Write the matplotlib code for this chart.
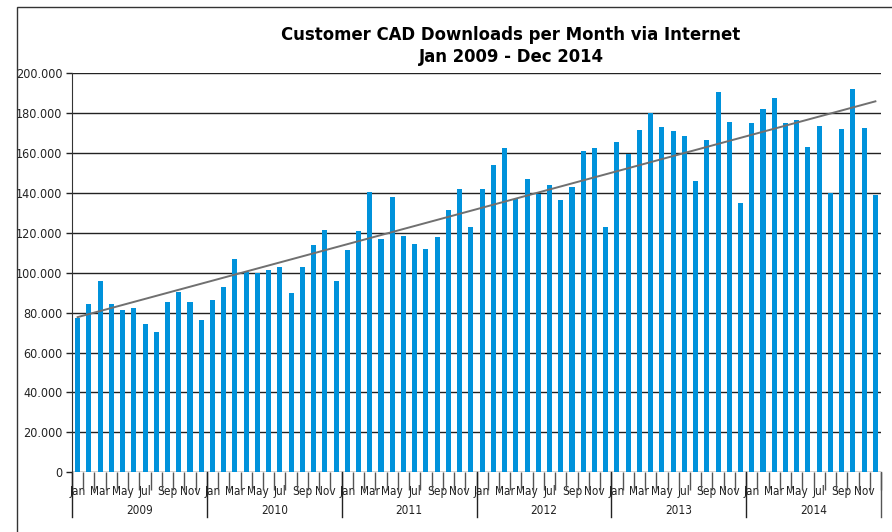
import numpy as np
import matplotlib.pyplot as plt
from matplotlib.patches import Rectangle
from matplotlib.ticker import FuncFormatter

years = ["2009", "2010", "2011", "2012", "2013", "2014"]
months = ["Jan", "Feb", "Mar", "Apr", "May", "Jun",
          "Jul", "Aug", "Sep", "Oct", "Nov", "Dec"]

downloads = [
    # 2009
    77500, 84500, 96000, 84300, 81500, 82300, 74300, 70200, 85200, 90500, 85200, 76500,
    # 2010
    86200, 93000, 106700, 100500, 99800, 101500, 103000, 89800, 103000, 114000, 121500, 95800,
    # 2011
    111200, 120700, 140200, 116700, 137700, 118500, 114300, 111700, 118000, 131300, 141800, 123000,
    # 2012
    141800, 153700, 162300, 136700, 146800, 139300, 143700, 136300, 142700, 160700, 162300, 123000,
    # 2013
    165200, 159500, 171500, 180200, 172800, 170700, 168300, 146000, 166500, 190700, 175700, 135000,
    # 2014
    175200, 182000, 187500, 175200, 176500, 162800, 173300, 140000, 172000, 192000, 172500, 138700,
]

title = "Customer CAD Downloads per Month via Internet\nJan 2009 - Dec 2014"

plt.rcParams["font.family"] = ["DejaVu Sans"]
plt.rcParams["font.stretch"] = "condensed"

fig = plt.figure(figsize=(8.92, 5.32), dpi=100)
ax = fig.add_axes([72 / 892, 1 - 472.3 / 532, 809 / 892, 399.3 / 532])

n = len(downloads)
x = np.arange(n)
ax.bar(x, downloads, width=0.45, color="#0092DB", zorder=3)

# linear trend line
k, b = np.polyfit(x, downloads, 1)
ax.plot(x, k * x + b, color="#707070", lw=1.4, zorder=4)

ax.set_xlim(-0.5, n - 0.5)
ax.set_ylim(0, 200000)
ax.set_yticks(np.arange(0, 200001, 20000))
ax.yaxis.set_major_formatter(FuncFormatter(
    lambda v, p: "0" if v == 0 else f"{int(v):,}".replace(",", ".")))
ax.tick_params(axis="y", length=4, width=1, color="#222222",
               labelsize=9, labelcolor="#222222", pad=3)
ax.yaxis.grid(True, color="#222222", lw=1, zorder=1)

# month labels (every other month) and separators
ax.set_xticks(x)
ax.set_xticklabels([months[i % 12] if i % 2 == 0 else "" for i in x])
ax.tick_params(axis="x", which="major", length=0, labelsize=8.5,
               labelcolor="#222222", pad=9)
ax.set_xticks(np.arange(-0.5, n, 1), minor=True)
ax.tick_params(axis="x", which="minor", length=13, width=1, color="#555555")

# year separators and labels
tr = ax.get_xaxis_transform()
for i, yr in enumerate(years):
    ax.plot([i * 12 - 0.5] * 2, [0, -45 / 399.3], transform=tr,
            color="#222222", lw=1, clip_on=False)
    ax.text(i * 12 + 5.5, -38 / 399.3, yr, transform=tr, ha="center",
            va="center", fontsize=8.5, color="#222222")
ax.plot([n - 0.5] * 2, [0, -45 / 399.3], transform=tr,
        color="#555555", lw=1, clip_on=False)

for side in ["top", "right", "bottom"]:
    ax.spines[side].set_visible(False)
ax.spines["left"].set_color("#333333")

fig.text(511 / 892, 1 - 46 / 532, title, ha="center", va="center",
         fontsize=13.2, fontweight="bold", linespacing=1.35)

# outer chart frame
fig.patches.append(Rectangle((17 / 892, -0.1), 1.0, 1 - 7 / 532 + 0.1,
                             transform=fig.transFigure, fill=False,
                             edgecolor="#333333", lw=1))

fig.savefig("out.png", dpi=100)
